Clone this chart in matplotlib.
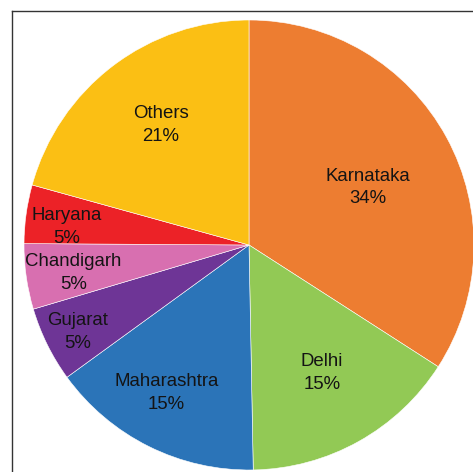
import matplotlib.pyplot as plt
from matplotlib.lines import Line2D
import numpy as np

plt.rcParams['font.family'] = ['Liberation Sans', 'DejaVu Sans']

# data (wedge sizes, labels as printed)
states = ['Karnataka', 'Delhi', 'Maharashtra', 'Gujarat', 'Chandigarh', 'Haryana', 'Others']
shares = [34.1, 15.6, 15.3, 5.4, 4.7, 4.2, 20.7]
pct_labels = ['34%', '15%', '15%', '5%', '5%', '5%', '21%']
colors = ['#ED7D31', '#92C955', '#2B74B8', '#6E3596', '#D86FB0', '#EC2227', '#FBBF14']

# label placement: fraction of radius, and angle nudge (deg, clockwise) from wedge middle
label_dist = [0.592, 0.647, 0.744, 0.852, 0.789, 0.815, 0.668]
label_nudge = [2.1, -0.9, 3.0, -0.1, -0.2, -1.6, 1.3]

W, H = 473, 472
fig = plt.figure(figsize=(W / 100, H / 100), dpi=100)

# pie centre / radius in pixels
cx, cy, r = 249, 245, 225
ax = fig.add_axes([(cx - r) / W, (H - cy - r) / H, 2 * r / W, 2 * r / H])

wedges, _ = ax.pie(shares, colors=colors, startangle=90, counterclock=False,
                   radius=1, wedgeprops=dict(edgecolor='white', linewidth=0.4))
ax.set_xlim(-1, 1)
ax.set_ylim(-1, 1)
ax.set_aspect('equal')
ax.axis('off')

for w, name, pct, d, nd in zip(wedges, states, pct_labels, label_dist, label_nudge):
    ang = np.deg2rad((w.theta1 + w.theta2) / 2 - nd)
    ax.text(d * np.cos(ang), d * np.sin(ang) - 0.009, f'{name}\n{pct}',
            ha='center', va='center', fontsize=13.4, linespacing=1.45, color='#141414')

# frame (only top and left visible in the crop)
fig.add_artist(Line2D([12 / W, 12 / W], [0, 1 - 10.5 / H], transform=fig.transFigure,
                      color='#333333', linewidth=1.0))
fig.add_artist(Line2D([12 / W, 1], [1 - 10.5 / H, 1 - 10.5 / H], transform=fig.transFigure,
                      color='#333333', linewidth=1.0))

fig.savefig('out.png', dpi=100)
